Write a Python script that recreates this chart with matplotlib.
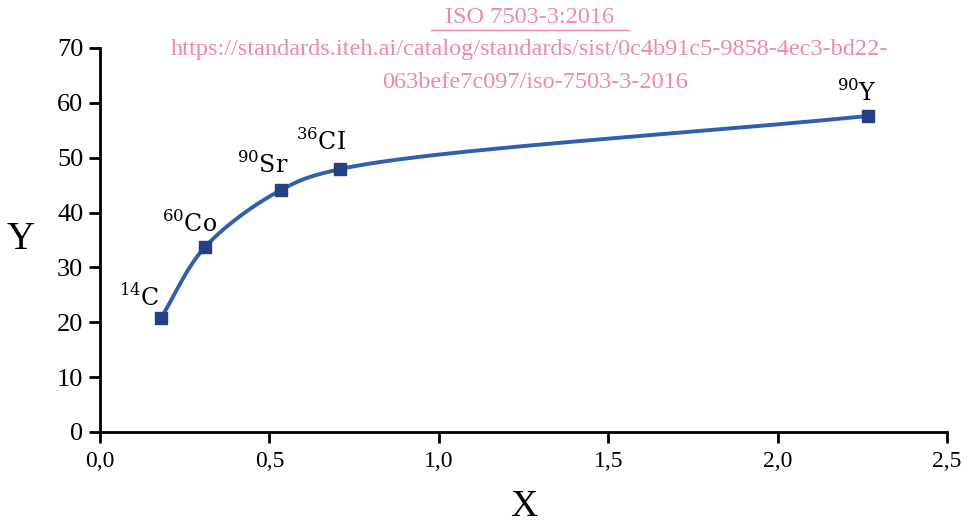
# smoothed curve through the nuclide points, with pink watermark text

import numpy as np
from matplotlib import pyplot as plt

plt.rcParams['font.family'] = ['Liberation Serif', 'DejaVu Serif']
plt.rcParams['mathtext.fontset'] = 'custom'
plt.rcParams['mathtext.rm'] = 'DejaVu Serif'

# data
nuclides = ['14', '60', '90', '36', '90']
elements = ['C', 'Co', 'Sr', 'CI', 'Y']
x_vals = [0.18, 0.31, 0.534, 0.708, 2.267]
y_vals = [20.8, 33.7, 44.1, 47.9, 57.6]
x_ticks = [0.0, 0.5, 1.0, 1.5, 2.0, 2.5]
x_ticklabels = ['0,0', '0,5', '1,0', '1,5', '2,0', '2,5']
y_ticks = [0, 10, 20, 30, 40, 50, 60, 70]


def smooth(xs, ys, sx=338.8, sy=5.486, n=60):
    # centripetal catmull-rom, worked out in screen-like units
    p = np.column_stack([np.array(xs) * sx, np.array(ys) * sy])
    p = np.vstack([2 * p[0] - p[1], p, 2 * p[-1] - p[-2]])
    out = []
    for i in range(1, len(p) - 2):
        p0, p1, p2, p3 = p[i - 1], p[i], p[i + 1], p[i + 2]
        t0 = 0.0
        t1 = t0 + np.linalg.norm(p1 - p0) ** 0.5
        t2 = t1 + np.linalg.norm(p2 - p1) ** 0.5
        t3 = t2 + np.linalg.norm(p3 - p2) ** 0.5
        t = np.linspace(t1, t2, n)[:, None]
        a1 = (t1 - t) / (t1 - t0) * p0 + (t - t0) / (t1 - t0) * p1
        a2 = (t2 - t) / (t2 - t1) * p1 + (t - t1) / (t2 - t1) * p2
        a3 = (t3 - t) / (t3 - t2) * p2 + (t - t2) / (t3 - t2) * p3
        b1 = (t2 - t) / (t2 - t0) * a1 + (t - t0) / (t2 - t0) * a2
        b2 = (t3 - t) / (t3 - t1) * a2 + (t - t1) / (t3 - t1) * a3
        out.append((t2 - t) / (t2 - t1) * b1 + (t - t1) / (t2 - t1) * b2)
    out = np.vstack(out)
    return out[:, 0] / sx, out[:, 1] / sy


fig = plt.figure(figsize=(9.68, 5.24), dpi=100)
ax = fig.add_axes([0.1033, 0.1756, 0.875, 0.733])

cx, cy = smooth(x_vals, y_vals)
ax.plot(cx, cy, color='#2f5fae', lw=2.8, zorder=2)
ax.plot(x_vals, y_vals, ls='none', marker='s', ms=8.5, color='#233f86', zorder=3)

offsets = [(-0.065, 1.2), (-0.045, 1.9), (-0.055, 2.1), (-0.055, 2.5), (-0.033, 1.8)]
for nuc, el, x, y, (dx, dy) in zip(nuclides, elements, x_vals, y_vals, offsets):
    ax.text(x + dx, y + dy, r'$^{%s}$' % nuc + el, fontsize=17,
            family='DejaVu Serif', ha='center', va='bottom')

ax.set_xlim(0, 2.5)
ax.set_ylim(0, 70)
ax.set_xticks(x_ticks)
ax.set_xticklabels(x_ticklabels)
ax.set_yticks(y_ticks)
ax.tick_params(width=2, length=8, direction='out')
ax.tick_params(axis='y', labelsize=19, pad=4)
ax.tick_params(axis='x', labelsize=17, pad=6)
for s in ['top', 'right']:
    ax.spines[s].set_visible(False)
for s in ['left', 'bottom']:
    ax.spines[s].set_linewidth(2)

fig.text(0.021, 0.542, 'Y', fontsize=28, ha='center', va='center')
fig.text(0.541, 0.033, 'X', fontsize=27, ha='center', va='center')

pink = '#ef88ac'
fig.text(0.547, 0.966, 'ISO 7503-3:2016', fontsize=17.5, color=pink,
         ha='center', va='center')
fig.text(0.547, 0.905, 'https://standards.iteh.ai/catalog/standards/sist/0c4b91c5-9858-4ec3-bd22-',
         fontsize=17.5, color=pink, ha='center', va='center')
fig.text(0.553, 0.843, '063befe7c097/iso-7503-3-2016', fontsize=17.5, color=pink,
         ha='center', va='center')
# underline under the title
fig.add_artist(plt.Line2D([0.445, 0.65], [0.942, 0.942], color=pink, lw=1,
                          transform=fig.transFigure))

plt.savefig('out.png', dpi=100)
